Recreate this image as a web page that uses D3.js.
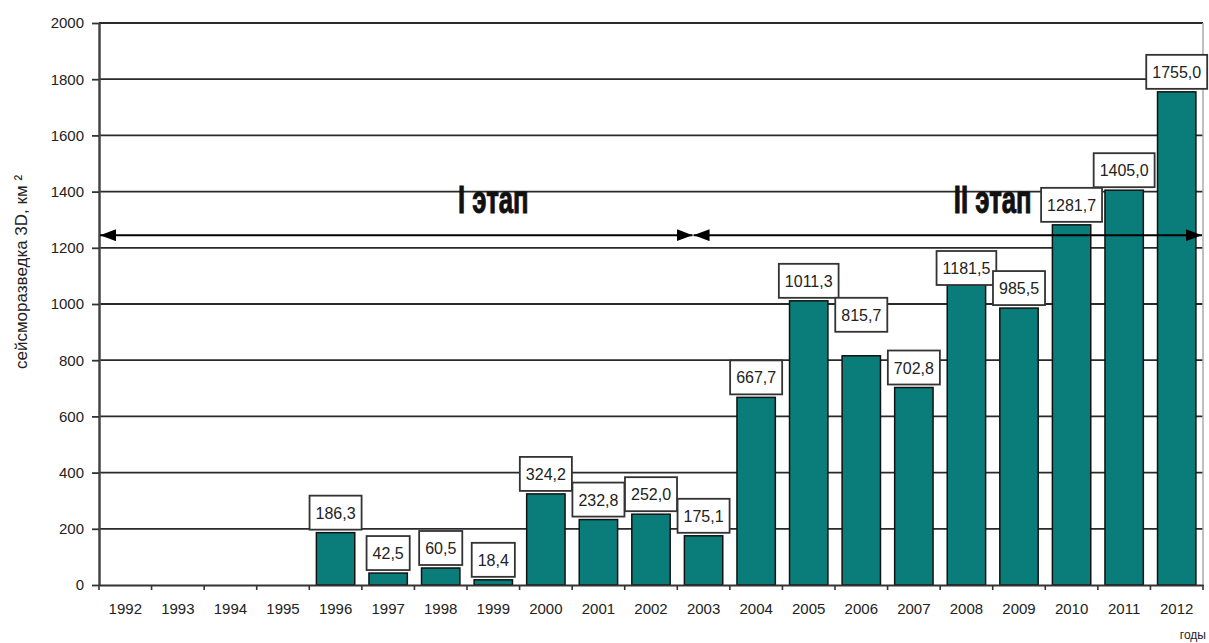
<!DOCTYPE html>
<html>
<head>
<meta charset="utf-8">
<script src="https://cdn.jsdelivr.net/npm/d3@7"></script>
<style>
  body { margin: 0; background: #fff; }
  text { font-family: "Liberation Sans", Arial, sans-serif; }
</style>
</head>
<body>
<div id="chart"></div>
<script>
// Объём сейсморазведки 3D по годам
const years = ['1992', '1993', '1994', '1995', '1996', '1997', '1998', '1999', '2000', '2001', '2002',
               '2003', '2004', '2005', '2006', '2007', '2008', '2009', '2010', '2011', '2012'];
const volumes = [0, 0, 0, 0, 186.3, 42.5, 60.5, 18.4, 324.2, 232.8, 252.0,
                 175.1, 667.7, 1011.3, 815.7, 702.8, 1181.5, 985.5, 1281.7, 1405.0, 1755.0];
const yTicks = [0, 200, 400, 600, 800, 1000, 1200, 1400, 1600, 1800, 2000];
const phaseNames = ['I этап', 'II этап'];
const phaseLevel = 1245;

// labels Excel moved by hand (px up, negative = down)
const labelLift = { '2006': 21, '2008': -35 };

const width = 1209, height = 643;
const mLeft = 99, mRight = 1203, mTop = 23, mBottom = 585;
const barColor = '#0a7d7a';

const svg = d3.select('#chart')
    .append('svg')
    .attr('width', width)
    .attr('height', height);

const x = d3.scaleBand().domain(years).range([mLeft, mRight]);
const y = d3.scaleLinear().domain([0, 2000]).range([mBottom, mTop]);
const barW = x.bandwidth() * 0.73;

const rows = years.map((yr, i) => ({ yr, v: volumes[i] })).filter(d => d.v > 0);

// gridlines
svg.append('g')
   .selectAll('line')
   .data(yTicks.filter(d => d > 0))
   .enter()
   .append('line')
   .attr('x1', mLeft)
   .attr('x2', mRight)
   .attr('y1', d => y(d))
   .attr('y2', d => y(d))
   .attr('stroke', '#2a2a2a')
   .attr('stroke-width', 1.8);

// right frame
svg.append('line')
   .attr('x1', mRight).attr('x2', mRight)
   .attr('y1', mTop).attr('y2', mBottom)
   .attr('stroke', '#aaa')
   .attr('stroke-width', 1.5);

// bars
svg.append('g')
   .selectAll('rect')
   .data(rows)
   .enter()
   .append('rect')
   .attr('x', d => x(d.yr) + (x.bandwidth() - barW) / 2)
   .attr('y', d => y(d.v))
   .attr('width', barW)
   .attr('height', d => y(0) - y(d.v))
   .attr('fill', barColor)
   .attr('stroke', '#111')
   .attr('stroke-width', 1.5);

// axes
const yAxis = svg.append('g')
   .attr('transform', `translate(${mLeft},0)`)
   .call(d3.axisLeft(y).tickValues(yTicks).tickFormat(d3.format('d'))
           .tickSize(7).tickSizeOuter(0).tickPadding(8));
yAxis.select('.domain').attr('stroke', '#444').attr('stroke-width', 2.5);
yAxis.selectAll('.tick line').attr('stroke', '#333').attr('stroke-width', 1.8);
yAxis.selectAll('text').attr('font-size', 15).attr('fill', '#222')
     .style('font-family', '"Liberation Sans", Arial, sans-serif');

const xAxis = svg.append('g')
   .attr('transform', `translate(0,${mBottom})`)
   .call(d3.axisBottom(x).tickSize(0).tickPadding(18));
xAxis.select('.domain').attr('stroke', '#333').attr('stroke-width', 2);
xAxis.selectAll('text').attr('font-size', 15).attr('fill', '#222')
     .style('font-family', '"Liberation Sans", Arial, sans-serif');

// x ticks between the categories
svg.append('g')
   .selectAll('line')
   .data(years.concat(['end']))
   .enter()
   .append('line')
   .attr('x1', (d, i) => mLeft + i * x.step())
   .attr('x2', (d, i) => mLeft + i * x.step())
   .attr('y1', mBottom)
   .attr('y2', mBottom + 5)
   .attr('stroke', '#333')
   .attr('stroke-width', 1.6);

// value labels
const labels = svg.append('g')
   .selectAll('g')
   .data(rows)
   .enter()
   .append('g')
   .attr('transform', d => `translate(${x(d.yr) + x.bandwidth() / 2},${y(d.v) - 3 - (labelLift[d.yr] || 0)})`);

labels.append('text')
   .attr('text-anchor', 'middle')
   .attr('y', -11)
   .attr('font-size', 16)
   .attr('fill', '#222')
   .text(d => d.v.toFixed(1).replace('.', ','));

labels.each(function() {
    const g = d3.select(this);
    const w = g.select('text').node().getComputedTextLength() + 12;
    g.insert('rect', 'text')
     .attr('x', -w / 2)
     .attr('y', -34)
     .attr('width', w)
     .attr('height', 34)
     .attr('fill', '#fff')
     .attr('stroke', '#333')
     .attr('stroke-width', 1.8);
});

// phase arrows
svg.append('defs')
   .append('marker')
   .attr('id', 'head')
   .attr('viewBox', '0 -6 16 12')
   .attr('refX', 16)
   .attr('refY', 0)
   .attr('markerWidth', 16)
   .attr('markerHeight', 12)
   .attr('markerUnits', 'userSpaceOnUse')
   .attr('orient', 'auto-start-reverse')
   .append('path')
   .attr('d', 'M0,-6L16,0L0,6Z')
   .attr('fill', '#000');

const split = x('2003') + x.step() * 0.3;
const phaseSpans = [[mLeft + 1, split - 0.5], [split + 0.5, mRight - 1]];
const phaseTextX = [x('1999') + x.bandwidth() / 2, x('2009')];

svg.append('g')
   .selectAll('line')
   .data(phaseSpans)
   .enter()
   .append('line')
   .attr('x1', d => d[0])
   .attr('x2', d => d[1])
   .attr('y1', y(phaseLevel))
   .attr('y2', y(phaseLevel))
   .attr('stroke', '#000')
   .attr('stroke-width', 2)
   .attr('marker-start', 'url(#head)')
   .attr('marker-end', 'url(#head)');

svg.append('g')
   .selectAll('text')
   .data(phaseNames)
   .enter()
   .append('text')
   .attr('transform', (d, i) => `translate(${phaseTextX[i]},213) scale(0.66,1)`)
   .attr('text-anchor', 'middle')
   .attr('font-size', 39)
   .attr('font-weight', 'bold')
   .attr('fill', '#111')
   .attr('stroke', '#111')
   .attr('stroke-width', 1)
   .text(d => d);

// axis titles
svg.append('text')
   .attr('transform', 'translate(27,272) rotate(-90)')
   .attr('text-anchor', 'middle')
   .attr('font-size', 17)
   .attr('fill', '#222')
   .text('сейсморазведка 3D, км ²');

svg.append('text')
   .attr('x', 1206)
   .attr('y', 639)
   .attr('text-anchor', 'end')
   .attr('font-size', 12)
   .attr('fill', '#222')
   .text('годы');
</script>
</body>
</html>
